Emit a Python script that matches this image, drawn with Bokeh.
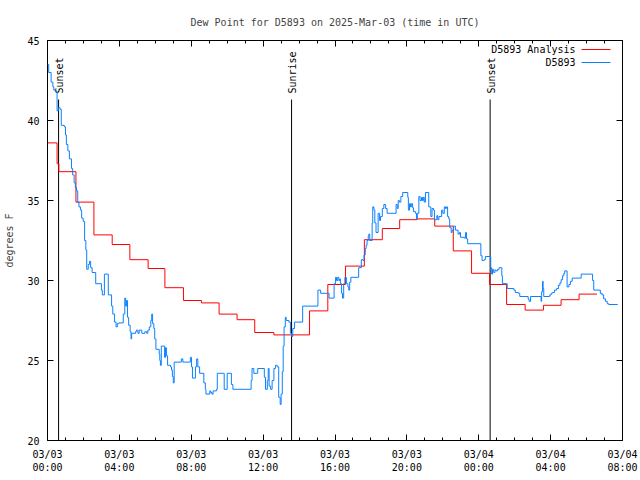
import numpy as np
import pandas as pd
from bokeh.plotting import figure
from bokeh.models import (Range1d, LinearAxis, DatetimeAxis, FixedTicker,
                          DatetimeTickFormatter, CustomJSTickFormatter)
from bokeh.embed import file_html
from bokeh.resources import INLINE
from bokeh.core.properties import value

TITLE = "Dew Point for D5893 on 2025-Mar-03 (time in UTC)"
START = "2025-03-03 00:00"
END = "2025-03-04 08:00"

# Observations (minutes after START, degrees F)
obs_minutes = [0, 4, 12, 18, 21, 29, 32, 36, 42, 46, 56, 60, 63, 68, 73, 80, 84, 89, 93, 97,
               101, 105, 110, 114, 119, 124, 128, 131, 136, 140, 144, 149, 161, 180, 183, 190, 203,
               214, 218, 224, 229, 233, 238, 253, 258, 261, 264, 267, 271, 276, 279, 281, 294, 297,
               302, 306, 315, 325, 331, 335, 340, 345, 348, 351, 355, 358, 362, 373, 375, 377, 380,
               391, 394, 397, 401, 411, 414, 417, 420, 423, 447, 452, 477, 481, 484, 494, 498, 502,
               508, 522, 527, 529, 542, 545, 549, 553, 564, 567, 590, 600, 614, 619, 680, 683, 689,
               702, 724, 728, 734, 737, 740, 745, 750, 756, 761, 767, 772, 777, 780, 784, 787, 790,
               794, 797, 806, 811, 815, 819, 825, 852, 903, 912, 940, 957, 962, 965, 969, 973, 976,
               978, 982, 985, 989, 993, 998, 1003, 1006, 1009, 1013, 1039, 1048, 1054, 1057, 1061,
               1064, 1067, 1071, 1073, 1076, 1084, 1086, 1090, 1093, 1097, 1104, 1109, 1112, 1118,
               1123, 1129, 1134, 1164, 1168, 1171, 1175, 1180, 1186, 1203, 1205, 1209, 1212, 1215,
               1219, 1222, 1229, 1232, 1235, 1240, 1244, 1249, 1252, 1255, 1258, 1262, 1273, 1280,
               1284, 1289, 1292, 1300, 1303, 1307, 1316, 1320, 1325, 1329, 1332, 1336, 1340, 1343,
               1348, 1351, 1356, 1362, 1371, 1376, 1379, 1392, 1396, 1399, 1403, 1447, 1451, 1458,
               1462, 1480, 1483, 1486, 1490, 1494, 1498, 1503, 1508, 1517, 1519, 1535, 1557, 1562,
               1573, 1577, 1605, 1608, 1613, 1648, 1650, 1653, 1655, 1657, 1677, 1682, 1686, 1693,
               1700, 1706, 1711, 1715, 1720, 1724, 1727, 1735, 1741, 1746, 1752, 1782, 1820, 1824,
               1846, 1852, 1857, 1863, 1869, 1874, 1904]
obs_dewpoint = [43.5, 43.0, 42.4, 42.1, 41.9, 41.8, 40.6, 40.8, 40.7, 39.7, 39.6, 39.1, 38.5, 38.1,
                37.6, 37.0, 36.6, 36.1, 35.8, 35.6, 34.9, 34.6, 34.4, 33.9, 33.7, 32.5, 31.9, 30.7,
                31.0, 31.2, 30.8, 30.5, 29.8, 29.4, 29.1, 30.4, 29.1, 28.4, 27.9, 27.4, 27.1, 27.3,
                27.35, 27.9, 28.9, 28.4, 28.75, 27.7, 27.2, 26.8, 26.35, 26.7, 26.8, 26.9, 26.7,
                26.9, 26.7, 26.8, 26.7, 26.9, 27.1, 27.5, 27.9, 27.3, 27.0, 26.35, 25.7, 25.4, 25.0,
                24.7, 25.9, 25.2, 25.8, 25.3, 24.7, 24.6, 24.4, 24.0, 23.6, 24.9, 25.1, 24.9, 25.2,
                24.6, 23.9, 24.6, 25.1, 24.6, 24.2, 23.6, 23.2, 22.9, 23.1, 23.0, 22.9, 23.1, 23.2,
                24.2, 23.2, 24.2, 23.5, 23.2, 23.75, 24.5, 24.2, 24.5, 23.95, 23.2, 23.75, 24.5,
                23.4, 23.2, 23.75, 24.5, 24.7, 24.6, 22.7, 22.25, 22.9, 24.3, 25.9, 27.1, 27.7,
                27.5, 27.4, 26.7, 26.5, 27.0, 27.4, 28.4, 29.4, 29.2, 28.9, 29.8, 30.2, 30.0, 30.2,
                30.0, 30.1, 29.8, 29.2, 28.9, 29.8, 30.2, 29.8, 29.6, 29.4, 29.9, 30.2, 30.8, 31.3,
                31.25, 31.6, 32.0, 32.2, 32.5, 32.8, 32.9, 32.5, 33.6, 34.6, 34.4, 33.6, 33.0, 34.2,
                33.75, 34.0, 34.5, 34.75, 34.5, 34.2, 34.75, 34.5, 35.0, 34.9, 35.25, 35.5, 35.2,
                34.4, 34.8, 34.6, 34.8, 34.55, 34.3, 34.2, 33.85, 34.2, 35.25, 35.0, 35.2, 35.0,
                35.2, 34.9, 35.5, 34.6, 34.0, 34.5, 34.4, 33.8, 34.05, 33.8, 34.0, 34.4, 34.2, 34.6,
                34.5, 34.6, 34.0, 33.85, 33.3, 33.0, 33.15, 33.4, 33.15, 32.9, 33.0, 32.7, 32.65,
                33.0, 32.6, 32.3, 31.55, 31.25, 31.3, 31.5, 30.8, 30.4, 30.7, 30.5, 30.65, 30.6,
                30.7, 30.8, 30.3, 29.8, 29.5, 29.4, 29.25, 29.2, 29.0, 28.85, 28.7, 29.0, 28.7,
                29.3, 29.95, 29.5, 29.0, 29.1, 29.2, 29.25, 29.4, 29.5, 29.7, 29.85, 30.05, 30.3,
                30.45, 30.6, 29.6, 29.75, 29.95, 30.15, 30.4, 30.0, 29.4, 29.2, 29.1, 28.85, 28.7,
                28.55, 28.5, 28.5]

# Analysis (minutes after START, degrees F)
ana_minutes = [0, 32, 38, 95, 155, 216, 275, 336, 392, 454, 514, 573, 633, 692, 756, 875, 936,
               995, 1058, 1118, 1176, 1234, 1293, 1355, 1416, 1476, 1533, 1595, 1656, 1715, 1775,
               1835]
ana_dewpoint = [38.6, 37.3, 36.8, 34.9, 32.85, 32.25, 31.3, 30.75, 29.55, 28.75, 28.6, 27.9, 27.55,
                26.75, 26.6, 28.1, 29.75, 30.9, 32.55, 33.25, 33.8, 33.85, 33.4, 31.85, 30.45,
                29.75, 28.5, 28.15, 28.45, 28.8, 29.15, 29.15]

sun_names = ["Sunset", "Sunrise", "Sunset"]
sun_minutes = [37, 815, 1478]

y_ticks = [20, 25, 30, 35, 40, 45]
series_names = ["D5893 Analysis", "D5893"]

# ---- styling constants ----
FONT = "DejaVu Sans Mono"
RED = "#ff0000"
BLUE = "#0a80ff"
W, H = 640, 480
BL, BR, BT, BB = 47, 18, 40, 40

t0 = pd.Timestamp(START)
t1 = pd.Timestamp(END)
def to_ms(ts):
    return ts.timestamp() * 1000.0

obs_t = [t0 + pd.Timedelta(minutes=m) for m in obs_minutes]
ana_t = [t0 + pd.Timedelta(minutes=m) for m in ana_minutes]
sun_t = [t0 + pd.Timedelta(minutes=m) for m in sun_minutes]

x0, x1 = to_ms(t0), to_ms(t1)
y0, y1 = min(y_ticks), max(y_ticks)
fw, fh = W - BL - BR, H - BT - BB

def px_x(px):  # frame-relative pixel -> data (decoration placement only)
    return x0 + (px / fw) * (x1 - x0)
def px_y(px):  # pixels down from frame top -> data
    return y1 - (px / fh) * (y1 - y0)

p = figure(width=W, height=H, output_backend="svg", toolbar_location=None,
           x_axis_type="datetime", x_range=Range1d(x0, x1), y_range=Range1d(y0, y1),
           min_border_left=BL, min_border_right=BR, min_border_top=BT, min_border_bottom=BB,
           title=TITLE)
p.grid.visible = False
p.outline_line_color = "black"
p.outline_line_width = 1
p.background_fill_color = "white"
p.border_fill_color = "white"

p.title.text_font = FONT
p.title.text_font_size = "10px"
p.title.text_font_style = "normal"
p.title.align = "center"
p.title.standoff = 26

hour_ms = 3600 * 1000.0
major = [x0 + h * hour_ms for h in range(0, 33, 4)]
minor = [x0 + h * hour_ms for h in range(0, 33)]
fmt = "%m/%d\n%H:%M"
xfmt = DatetimeTickFormatter(minutes=fmt, hourmin=fmt, hours=fmt, days=fmt, months=fmt)
blank = CustomJSTickFormatter(code="return ''")

def style_axis(ax, labels=True):
    ax.axis_line_color = None
    ax.major_tick_in = 6
    ax.major_tick_out = 0
    ax.minor_tick_in = 3
    ax.minor_tick_out = 0
    ax.major_tick_line_color = "black"
    ax.minor_tick_line_color = "black"
    ax.major_label_text_font = FONT
    ax.major_label_text_font_size = "10px"
    ax.major_label_text_color = "black"
    if not labels:
        ax.formatter = blank
        ax.major_label_standoff = 0

xa = p.xaxis[0]
xa.ticker = FixedTicker(ticks=major, minor_ticks=minor)
xa.formatter = xfmt
style_axis(xa)
xa.major_label_standoff = 8

ya = p.yaxis[0]
ya.ticker = FixedTicker(ticks=y_ticks)
style_axis(ya)
ya.minor_tick_line_color = None
ya.major_label_standoff = 8
ya.axis_label = "degrees F"
ya.axis_label_text_font = FONT
ya.axis_label_text_font_size = "10px"
ya.axis_label_text_font_style = "normal"
ya.axis_label_standoff = 9

top = DatetimeAxis(ticker=FixedTicker(ticks=major, minor_ticks=minor))
style_axis(top, labels=False)
p.add_layout(top, "above")
right = LinearAxis(ticker=FixedTicker(ticks=y_ticks))
style_axis(right, labels=False)
right.minor_tick_line_color = None
p.add_layout(right, "right")

# sun event lines and labels
line_top = px_y(59)
p.segment(x0=sun_t, y0=[y0] * 3, x1=sun_t, y1=[line_top] * 3, line_color="black", line_width=1)
p.text(x=sun_t, y=[px_y(53)] * 3, text=sun_names, angle=np.pi / 2, text_align="left",
       text_baseline="middle", text_font=value(FONT), text_font_size="10px",
       text_color="black", x_offset=1)

# data
p.step(x=ana_t, y=ana_dewpoint, mode="after", line_color=RED, line_width=1)
p.step(x=obs_t, y=obs_dewpoint, mode="after", line_color=BLUE, line_width=1)

# gnuplot-style key (text left, sample right)
key_x_text = px_x(528)
key_x_a, key_x_b = px_x(534), px_x(563)
key_y = [px_y(9), px_y(22)]
p.text(x=[key_x_text] * 2, y=key_y, text=series_names, text_align="right",
       text_baseline="middle", text_font=value(FONT), text_font_size="10px", text_color="black")
p.segment(x0=[key_x_a] * 2, y0=key_y, x1=[key_x_b] * 2, y1=key_y,
          line_color=[RED, BLUE], line_width=1)

open("out.html", "w").write(file_html(p, INLINE))
